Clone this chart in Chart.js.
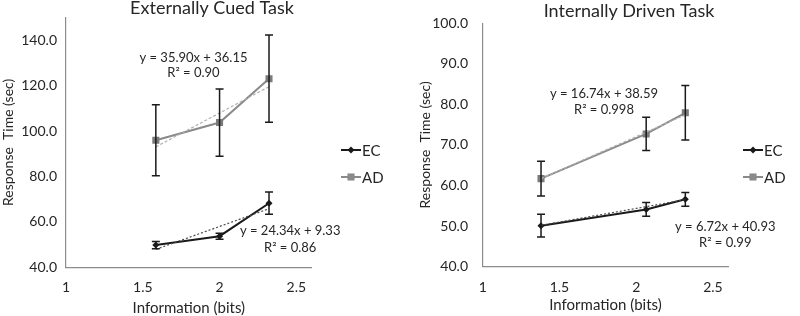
<!DOCTYPE html>
<html>
<head>
<meta charset="utf-8">
<script src="https://cdn.jsdelivr.net/npm/chart.js@4.4.0/dist/chart.umd.min.js"></script>
<style>
  html, body { margin: 0; padding: 0; background: #fff; }
  .wrap { display: flex; width: 800px; height: 316px; }
  .box { width: 400px; height: 316px; }
</style>
</head>
<body>
<div class="wrap">
  <div class="box"><canvas id="chartCued" width="400" height="316"></canvas></div>
  <div class="box"><canvas id="chartDriven" width="400" height="316"></canvas></div>
</div>
<script>
// --- data ---
const cuedX = [1.585, 2.0, 2.322];
const cuedEC = [49.8, 53.7, 68.2];
const cuedECErr = [1.6, 1.3, 4.9];
const cuedAD = [95.9, 103.7, 123.0];
const cuedADErr = [15.6, 14.8, 19.2];
const cuedTrendX = [1.585, 2.322];
const cuedECTrend = [47.9, 65.8];
const cuedADTrend = [93.0, 119.5];

const drivenX = [1.38, 2.065, 2.32];
const drivenEC = [50.1, 54.1, 56.6];
const drivenECErr = [2.8, 1.7, 1.7];
const drivenAD = [61.7, 72.7, 77.9];
const drivenADErr = [4.3, 4.1, 6.7];
const drivenTrendX = [1.38, 2.32];
const drivenECTrend = [50.2, 56.5];
const drivenADTrend = [61.7, 77.4];

const seriesNames = ['EC', 'AD'];
const cuedEquations = ['y = 24.34x + 9.33', 'R² = 0.86', 'y = 35.90x + 36.15', 'R² = 0.90'];
const drivenEquations = ['y = 6.72x + 40.93', 'R² = 0.99', 'y = 16.74x + 38.59', 'R² = 0.998'];

const FONT = 'Lato, "Open Sans", sans-serif';
const TEXT = '#262626';
const EC_COLOR = '#1a1a1a';
const AD_COLOR = '#8a8a8a';

function pts(xs, ys) {
    return xs.map((x, i) => ({ x: x, y: ys[i] }));
}

// error bars, title, legend and equation labels
const extrasPlugin = {
    id: 'extras',
    afterDatasetsDraw(chart) {
        const ctx = chart.ctx;
        const xs = chart.scales.x, ys = chart.scales.y;
        chart.data.datasets.forEach(ds => {
            if (!ds.errors) return;
            ctx.save();
            ctx.strokeStyle = '#1a1a1a';
            ctx.lineWidth = 1.5;
            ds.data.forEach((p, i) => {
                const px = xs.getPixelForValue(p.x);
                const top = ys.getPixelForValue(p.y + ds.errors[i]);
                const bot = ys.getPixelForValue(p.y - ds.errors[i]);
                ctx.beginPath();
                ctx.moveTo(px, top); ctx.lineTo(px, bot);
                ctx.moveTo(px - 4, top); ctx.lineTo(px + 4, top);
                ctx.moveTo(px - 4, bot); ctx.lineTo(px + 4, bot);
                ctx.stroke();
            });
            ctx.restore();
        });
    },
    afterDraw(chart, args, opts) {
        const ctx = chart.ctx;
        const xs = chart.scales.x, ys = chart.scales.y;
        ctx.save();
        ctx.fillStyle = TEXT;
        ctx.textAlign = 'center';
        ctx.textBaseline = 'middle';

        // title
        ctx.font = '18px ' + FONT;
        ctx.fillText(opts.title, opts.titleX, opts.titleY);

        // equations, anchored in data space
        ctx.font = '13px ' + FONT;
        opts.labels.forEach(l => {
            ctx.fillText(l.text, xs.getPixelForValue(l.x), ys.getPixelForValue(l.y));
        });

        // legend
        const lx = opts.legendX;
        [{ c: EC_COLOR, style: 'rectRot', r: 3.5, w: 2 }, { c: AD_COLOR, style: 'rect', r: 5, w: 2 }].forEach((it, i) => {
            const y = opts.legendY + i * 27;
            ctx.strokeStyle = it.c;
            ctx.lineWidth = it.w;
            ctx.beginPath();
            ctx.moveTo(lx, y); ctx.lineTo(lx + 20, y);
            ctx.stroke();
            ctx.fillStyle = it.c;
            Chart.helpers.drawPoint(ctx, { pointStyle: it.style, radius: it.r, borderWidth: 0 }, lx + 10, y);
            ctx.fillStyle = TEXT;
            ctx.textAlign = 'left';
            ctx.font = '15px ' + FONT;
            ctx.fillText(seriesNames[i], lx + 21, y + 1);
        });
        ctx.restore();
    }
};

function makeChart(id, d) {
    const ctx = document.getElementById(id).getContext('2d');
    return new Chart(ctx, {
        type: 'scatter',
        data: {
            datasets: [
                {
                    label: 'EC trend',
                    data: pts(d.trendX, d.ecTrend),
                    showLine: true,
                    borderColor: '#4a4a4a',
                    borderWidth: 1.2,
                    borderDash: [2, 2],
                    pointRadius: 0
                },
                {
                    label: 'AD trend',
                    data: pts(d.trendX, d.adTrend),
                    showLine: true,
                    borderColor: '#b0b0b0',
                    borderWidth: 1.2,
                    borderDash: [3, 2],
                    pointRadius: 0
                },
                {
                    label: seriesNames[0],
                    data: pts(d.x, d.ec),
                    errors: d.ecErr,
                    showLine: true,
                    borderColor: EC_COLOR,
                    backgroundColor: EC_COLOR,
                    borderWidth: 2,
                    pointStyle: 'rectRot',
                    pointRadius: 3.5,
                    pointBorderWidth: 0
                },
                {
                    label: seriesNames[1],
                    data: pts(d.x, d.ad),
                    errors: d.adErr,
                    showLine: true,
                    borderColor: AD_COLOR,
                    backgroundColor: '#7a7a7a',
                    borderWidth: 2,
                    pointStyle: 'rect',
                    pointRadius: 5,
                    pointBorderWidth: 0
                }
            ]
        },
        options: {
            responsive: false,
            animation: false,
            layout: { padding: { left: 0, top: d.padTop, right: d.padRight, bottom: 0 } },
            plugins: {
                legend: { display: false },
                tooltip: { enabled: false },
                extras: d.extras
            },
            scales: {
                x: {
                    type: 'linear',
                    min: 1,
                    max: 2.6,
                    ticks: {
                        stepSize: 0.5,
                        includeBounds: false,
                        padding: 12,
                        color: TEXT,
                        font: { family: FONT, size: 14 },
                        callback: v => String(v)
                    },
                    grid: { display: false, drawTicks: false },
                    border: { color: '#8c8c8c', width: 1.2 },
                    title: {
                        display: true,
                        text: 'Information (bits)',
                        color: TEXT,
                        font: { family: FONT, size: 15 },
                        padding: { top: 0, bottom: d.xTitlePad }
                    },
                    afterFit: s => { s.height = d.xHeight; }
                },
                y: {
                    min: 40,
                    max: d.yMax,
                    ticks: {
                        stepSize: d.yStep,
                        includeBounds: false,
                        padding: d.yTickPad,
                        color: TEXT,
                        font: { family: FONT, size: 14 },
                        callback: v => v.toFixed(1)
                    },
                    grid: { display: false, drawTicks: false },
                    border: { color: '#8c8c8c', width: 1.2 },
                    title: {
                        display: true,
                        text: 'Response  Time (sec)',
                        color: TEXT,
                        font: { family: FONT, size: 14 },
                        padding: { top: d.yTitlePad, bottom: 0 }
                    },
                    afterFit: s => { s.width = d.yWidth; }
                }
            }
        },
        plugins: [extrasPlugin]
    });
}

makeChart('chartCued', {
    x: cuedX, ec: cuedEC, ecErr: cuedECErr, ad: cuedAD, adErr: cuedADErr,
    trendX: cuedTrendX, ecTrend: cuedECTrend, adTrend: cuedADTrend,
    yMax: 150, yStep: 20,
    padTop: 8.5, padRight: 88.3, xHeight: 48.7, yWidth: 66,
    yTickPad: 9, yTitlePad: 0, xTitlePad: -1,
    extras: {
        title: 'Externally Cued Task', titleX: 212, titleY: 8,
        legendX: 341, legendY: 150,
        labels: [
            { text: cuedEquations[0], x: 2.46, y: 56.2 },
            { text: cuedEquations[1], x: 2.46, y: 48.6 },
            { text: cuedEquations[2], x: 1.83, y: 132.3 },
            { text: cuedEquations[3], x: 1.83, y: 125.5 }
        ]
    }
});

makeChart('chartDriven', {
    x: drivenX, ec: drivenEC, ecErr: drivenECErr, ad: drivenAD, adErr: drivenADErr,
    trendX: drivenTrendX, ecTrend: drivenECTrend, adTrend: drivenADTrend,
    yMax: 100, yStep: 10,
    padTop: 8, padRight: 71.7, xHeight: 49.3, yWidth: 82.7,
    yTickPad: 14.7, yTitlePad: 17, xTitlePad: 2,
    extras: {
        title: 'Internally Driven Task', titleX: 229, titleY: 11,
        legendX: 343, legendY: 150,
        labels: [
            { text: drivenEquations[0], x: 2.58, y: 49.9 },
            { text: drivenEquations[1], x: 2.58, y: 46.0 },
            { text: drivenEquations[2], x: 1.79, y: 82.7 },
            { text: drivenEquations[3], x: 1.79, y: 78.6 }
        ]
    }
});
</script>
</body>
</html>
